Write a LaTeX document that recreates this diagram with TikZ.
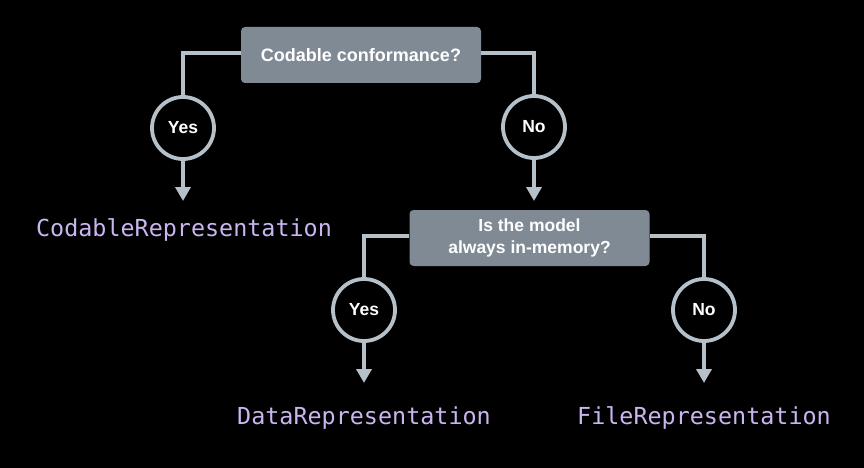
\documentclass[tikz,border=0pt]{standalone}
\usepackage{fontspec}
\setmainfont{Liberation Sans}
\newfontfamily\codefont{DejaVu Sans Mono}
\usetikzlibrary{arrows.meta}
\definecolor{bgc}{HTML}{000000}
\definecolor{boxc}{HTML}{7F8A95}
\definecolor{linec}{HTML}{B6C0C8}
\definecolor{codec}{HTML}{C9B5EF}
\tikzset{
  qbox/.style={fill=boxc, rounded corners=4pt, minimum width=240pt, minimum height=56pt,
    inner sep=0pt, text=white, font=\fontsize{18}{21}\selectfont\bfseries, align=center},
  ans/.style={circle, draw=linec, line width=3.8pt, fill=black, minimum size=62pt,
    inner sep=0pt, text=white, font=\fontsize{17.5}{20}\selectfont\bfseries},
  conn/.style={draw=linec, line width=3.8pt},
  arr/.style={conn, -{Triangle[width=15pt,length=14pt]}},
  codelbl/.style={text=codec, font=\codefont\fontsize{23.4}{26}\selectfont, inner sep=0pt, anchor=center}
}
\begin{document}
\begin{tikzpicture}[x=1pt,y=-1pt]
\fill[bgc] (0,0) rectangle (864,468);
\useasboundingbox (0,0) rectangle (864,468);

\node[qbox] (q1) at (361,55) {Codable conformance?};
\node[ans] (y1) at (183,128) {Yes};
\node[ans] (n1) at (534,127) {No};
\node[qbox, font=\fontsize{17.5}{22.5}\selectfont\bfseries] (q2) at (529.5,238) {Is the model\\always in-memory?};
\node[ans] (y2) at (364,310) {Yes};
\node[ans] (n2) at (704,310) {No};

\node[codelbl] (l1) at (184,230) {CodableRepresentation};
\node[codelbl] (l2) at (364,418) {DataRepresentation};
\node[codelbl] (l3) at (704,418) {FileRepresentation};

\coordinate (t1) at (183,201);
\coordinate (t2) at (534,201);
\coordinate (t3) at (364,383);
\coordinate (t4) at (704,383);

\draw[conn] ([yshift=2pt]q1.west) -| (y1.north);
\draw[conn] ([yshift=2pt]q1.east) -| (n1.north);
\draw[conn] ([yshift=2pt]q2.west) -| (y2.north);
\draw[conn] ([yshift=2pt]q2.east) -| (n2.north);

\draw[arr] (y1.south) -- (t1);
\draw[arr] (n1.south) -- (t2);
\draw[arr] (y2.south) -- (t3);
\draw[arr] (n2.south) -- (t4);
\end{tikzpicture}
\end{document}
